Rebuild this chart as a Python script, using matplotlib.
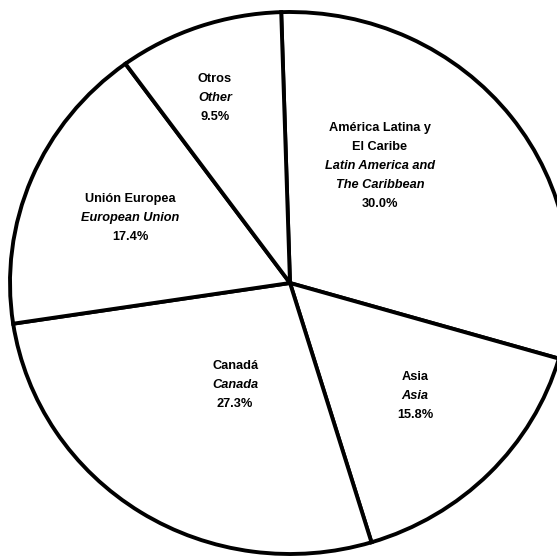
import matplotlib
matplotlib.use("Agg")
import matplotlib.pyplot as plt
import numpy as np

labels_es = ["América Latina y\nEl Caribe", "Asia", "Canadá", "Unión Europea", "Otros"]
labels_en = ["Latin America and\nThe Caribbean", "Asia", "Canada", "European Union", "Other"]
shares = [30.0, 15.8, 27.3, 17.4, 9.5]

# label anchor positions (layout only, axes data coords)
label_pos = [(0.321, 0.432), (0.446, -0.417), (-0.196, -0.376), (-0.571, 0.240), (-0.268, 0.683)]

plt.rcParams['font.family'] = ['Liberation Sans', 'DejaVu Sans']

fig = plt.figure(figsize=(5.57, 5.56), dpi=100)
fig.patch.set_facecolor('white')
ax = fig.add_axes([10/557, 2/556, 560/557, 542/556])

wedges, _ = ax.pie(shares, startangle=91.8, counterclock=False,
                   colors=['white'] * len(shares),
                   wedgeprops=dict(edgecolor='black', linewidth=2.8))
ax.set_aspect('auto')
ax.set_xlim(-1, 1)
ax.set_ylim(-1, 1)
ax.axis('off')

fs = 9.2
for (x, y), es, en, v in zip(label_pos, labels_es, labels_en, shares):
    es_lines = es.split("\n")
    en_lines = en.split("\n")
    lines = [(l, 'normal') for l in es_lines] + [(l, 'italic') for l in en_lines] + [(f"{v:.1f}%", 'normal')]
    n = len(lines)
    step = 0.070
    y0 = y + step * (n - 1) / 2
    for i, (txt, style) in enumerate(lines):
        ax.text(x, y0 - i * step, txt, ha='center', va='center', fontsize=fs,
                fontweight='bold', fontstyle=style, color='black')

fig.savefig("out.png", dpi=100, facecolor='white')
